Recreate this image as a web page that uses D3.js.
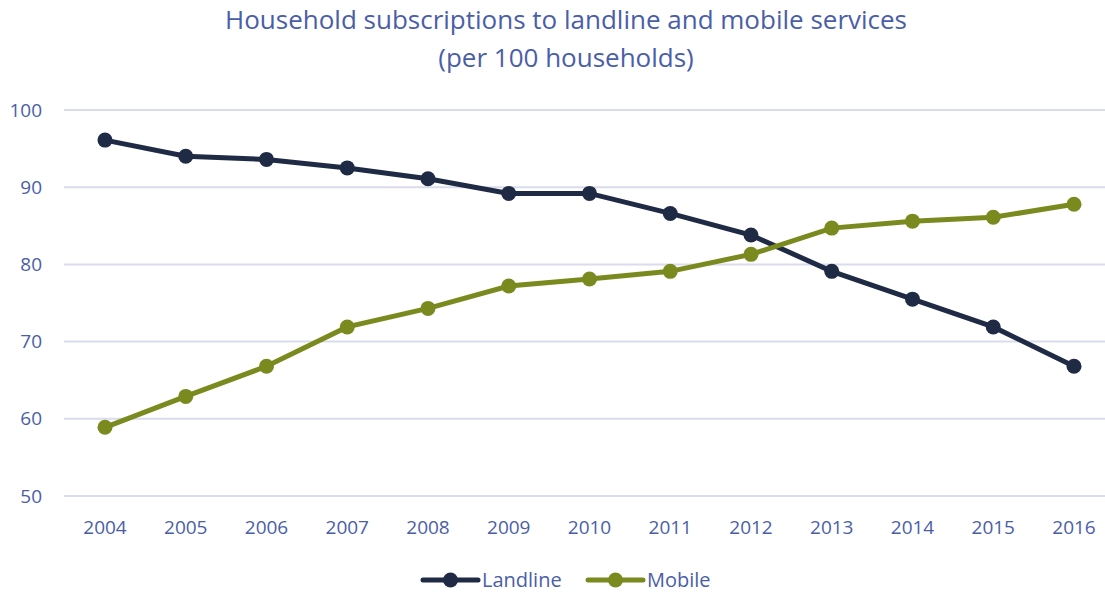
<!DOCTYPE html>
<html lang="en">
<head>
    <meta charset="UTF-8">
    <title>Household subscriptions</title>
    <style>
        body { margin: 0; background: #fff; }
        text { font-family: "Open Sans", "Noto Sans", sans-serif; fill: #4a5ea8; }
        .grid line { stroke: #d9dcec; stroke-width: 2px; }
        .series { fill: none; stroke-width: 5px; }
    </style>
</head>
<body>
    <script src="https://d3js.org/d3.v7.min.js"></script>
    <script>
        var width = 1105;
        var height = 594;

        var years = [2004, 2005, 2006, 2007, 2008, 2009, 2010, 2011, 2012, 2013, 2014, 2015, 2016];
        var landline = [96.1, 94.0, 93.6, 92.5, 91.1, 89.2, 89.2, 86.6, 83.8, 79.1, 75.5, 71.9, 66.8];
        var mobile = [58.9, 62.9, 66.8, 71.9, 74.3, 77.2, 78.1, 79.1, 81.3, 84.7, 85.6, 86.1, 87.8];
        var yTicks = [50, 60, 70, 80, 90, 100];

        var series = [
            { name: "Landline", values: landline, color: "#1f2a44" },
            { name: "Mobile", values: mobile, color: "#7a8a1e" }
        ];

        var svg = d3.select("body").append("svg")
            .attr("width", width)
            .attr("height", height);

        var x = d3.scalePoint()
            .domain(years)
            .range([105, 1074]);

        var y = d3.scaleLinear()
            .domain([50, 100])
            .range([496, 110]);

        // title
        var title = svg.append("text")
            .attr("text-anchor", "middle")
            .attr("font-size", 26);
        title.append("tspan").attr("x", 566).attr("y", 29).text("Household subscriptions to landline and mobile services");
        title.append("tspan").attr("x", 566).attr("y", 67).text("(per 100 households)");

        // gridlines
        svg.append("g")
            .attr("class", "grid")
            .selectAll("line")
            .data(yTicks)
            .enter().append("line")
            .attr("x1", 64)
            .attr("x2", 1105)
            .attr("y1", function(d) { return y(d); })
            .attr("y2", function(d) { return y(d); });

        // y labels
        svg.append("g")
            .selectAll("text")
            .data(yTicks)
            .enter().append("text")
            .attr("x", 42)
            .attr("y", function(d) { return y(d); })
            .attr("dy", "0.35em")
            .attr("text-anchor", "end")
            .attr("font-size", 19)
            .text(function(d) { return d; });

        // x labels
        svg.append("g")
            .selectAll("text")
            .data(years)
            .enter().append("text")
            .attr("x", function(d) { return x(d); })
            .attr("y", 534)
            .attr("text-anchor", "middle")
            .attr("font-size", 19)
            .text(function(d) { return d; });

        var line = d3.line()
            .x(function(d, i) { return x(years[i]); })
            .y(function(d) { return y(d); });

        series.forEach(function(s) {
            svg.append("path")
                .attr("class", "series")
                .attr("d", line(s.values))
                .attr("stroke", s.color);

            svg.append("g")
                .selectAll("circle")
                .data(s.values)
                .enter().append("circle")
                .attr("cx", function(d, i) { return x(years[i]); })
                .attr("cy", function(d) { return y(d); })
                .attr("r", 7.5)
                .attr("fill", s.color);
        });

        // legend
        var legendX = [423, 588];
        var legend = svg.append("g")
            .selectAll("g")
            .data(series)
            .enter().append("g")
            .attr("transform", function(d, i) { return "translate(" + legendX[i] + ",580)"; });

        legend.append("line")
            .attr("x1", 0).attr("x2", 55)
            .attr("stroke", function(d) { return d.color; })
            .attr("stroke-width", 5)
            .attr("stroke-linecap", "round");

        legend.append("circle")
            .attr("cx", 27.5)
            .attr("r", 7.5)
            .attr("fill", function(d) { return d.color; });

        legend.append("text")
            .attr("x", 59)
            .attr("dy", "0.35em")
            .attr("font-size", 20)
            .text(function(d) { return d.name; });
    </script>
</body>
</html>
